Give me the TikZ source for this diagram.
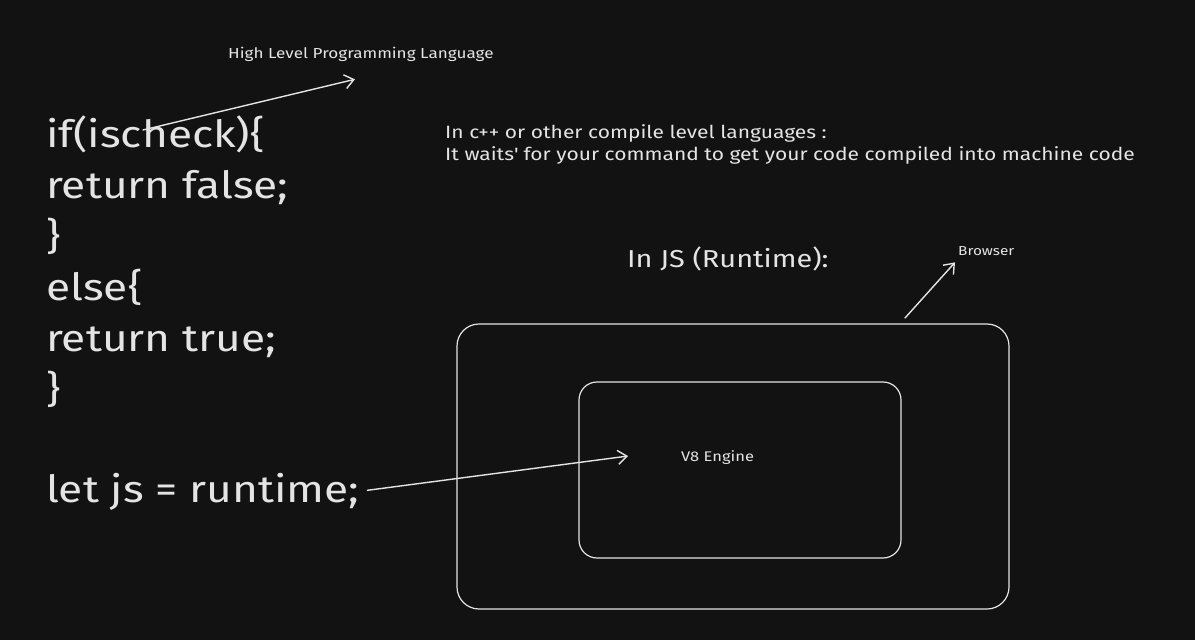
\documentclass[tikz,border=0pt]{standalone}
\usepackage{fontspec}
\setmainfont{Fira Sans}[FakeStretch=1.18]
\usetikzlibrary{arrows.meta,calc}
\definecolor{canvas}{HTML}{121212}
\definecolor{chalk}{HTML}{E4E4E4}

\begin{document}
\begin{tikzpicture}[x=1pt, y=-1pt,
  every node/.style={text=chalk, inner sep=0pt},
  codeline/.style={anchor=base west, font=\fontsize{37.5}{40}\selectfont},
  note/.style={anchor=base west, font=\fontsize{17.8}{22}\selectfont},
  small/.style={anchor=base west, font=\fontsize{14}{16}\selectfont},
  box/.style={draw=chalk, line width=1.2pt, rounded corners=22pt},
  link/.style={draw=chalk, line width=1.4pt, line cap=round,
    -{Straight Barb[length=9pt, width=14pt, line width=1.4pt]}}]
  % canvas
  \fill[canvas] (0,0) rectangle (1195,640);
  \useasboundingbox (0,0) rectangle (1195,640);
  % code on the left
  \node[codeline] (c1) at (46,147) {if(ischeck)\{};
  \node[codeline] (c2) at (46,198) {return false;};
  \node[codeline] (c3) at (46,249) {\}};
  \node[codeline] (c4) at (46,300) {else\{};
  \node[codeline] (c5) at (46,351) {return true;};
  \node[codeline] (c6) at (46,402) {\}};
  \node[codeline] (let) at (46,502) {let js = runtime;};
  % notes
  \node[small, font=\fontsize{14.5}{16}\selectfont] (hll) at (228,58) {High Level Programming Language};
  \node[note, align=left, anchor=north west] (cpp) at (445,124)
    {In c++ or other compile level languages :\\
     It waits\textquotesingle{} for your command to get your code compiled into machine code};
  \node[note, font=\fontsize{24.5}{26}\selectfont] (jsrt) at (627,267) {In JS (Runtime):};
  \node[small, font=\fontsize{13}{15}\selectfont] (browser) at (958,255) {Browser};
  % browser and engine
  \node[box, minimum width=552pt, minimum height=285pt] (outer) at (733,466.5) {};
  \node[box, rounded corners=18pt, minimum width=322pt, minimum height=176pt] (engine) at (740,470) {};
  \node[small] (v8) at (681,461) {V8 Engine};
  % arrows
  \coordinate (ischk) at (143,130);
  \coordinate (brtail) at (905,318);
  \draw[link] (ischk) -- ([xshift=-6pt, yshift=-18pt]hll.south);
  \draw[link] (brtail) -- ([xshift=-3pt, yshift=-7pt]browser.south west);
  \draw[link, shorten <=8pt] (let.east) -- ($(v8.west)+(-53,-1)$);
\end{tikzpicture}
\end{document}
